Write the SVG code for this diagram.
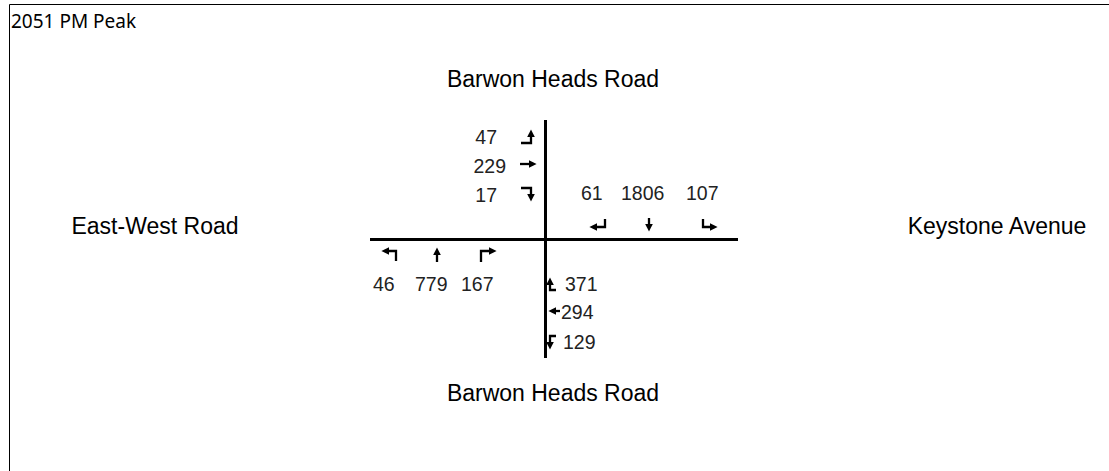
<svg xmlns="http://www.w3.org/2000/svg" width="1109" height="471" viewBox="0 0 1109 471">
<defs>
<style>
.lbl{font-family:"Liberation Sans",Arial,sans-serif;font-size:23px;fill:#000}
.num{font-family:"Liberation Sans",Arial,sans-serif;font-size:19.5px;fill:#222}
.road{stroke:#000;stroke-width:3;fill:none}
.arr{stroke:#000;stroke-width:2.3;fill:none;marker-end:url(#ah)}
</style>
<marker id="ah" viewBox="0 0 10 10" refX="3" refY="5" markerWidth="8" markerHeight="8" orient="auto" markerUnits="userSpaceOnUse"><path d="M0,0 L10,5 L0,10 z" fill="#000"/></marker>
</defs>
<rect width="1109" height="471" fill="#fff"/>
<path d="M9.5,471 V4.5 H1109" stroke="#000" stroke-width="1" fill="none"/>
<text x="11" y="28" font-family="'Noto Sans',sans-serif" font-size="19" fill="#000">2051 PM Peak</text>
<g id="labels">
<text id="north" class="lbl" x="553" y="87" text-anchor="middle">Barwon Heads Road</text>
<text id="south" class="lbl" x="553" y="401" text-anchor="middle">Barwon Heads Road</text>
<text id="west" class="lbl" x="155" y="234" text-anchor="middle">East-West Road</text>
<text id="east" class="lbl" x="997" y="234" text-anchor="middle">Keystone Avenue</text>
</g>
<g id="roads">
<path class="road" d="M545.5,120 V358"/>
<path class="road" d="M370,239.5 H738"/>
</g>
<g id="connectors">
<path class="arr" d="M521,143 H531 V135"/>
<path class="arr" d="M520,164 H531"/>
<path class="arr" d="M521,188 H531 V196"/>
<path class="arr" d="M605,219 V227 H595"/>
<path class="arr" d="M649,218 V226"/>
<path class="arr" d="M703,219 V227 H712"/>
<path class="arr" d="M396,261 V251 H387"/>
<path class="arr" d="M437,262 V253"/>
<path class="arr" d="M481,262 V251 H491"/>
<path class="arr" d="M556,290 H550 V283"/>
<path class="arr" d="M560,311 H554"/>
<path class="arr" d="M556,336 H550 V344"/>
</g>
<g id="volumes">
<text class="num" x="497" y="144" text-anchor="end">47</text>
<text class="num" x="506" y="173" text-anchor="end">229</text>
<text class="num" x="497" y="202" text-anchor="end">17</text>
<text class="num" x="581" y="200">61</text>
<text class="num" x="621" y="200">1806</text>
<text class="num" x="686" y="200">107</text>
<text class="num" x="373" y="291">46</text>
<text class="num" x="415" y="291">779</text>
<text class="num" x="461" y="291">167</text>
<text class="num" x="565" y="291">371</text>
<text class="num" x="561" y="319">294</text>
<text class="num" x="563" y="349">129</text>
</g>
</svg>
